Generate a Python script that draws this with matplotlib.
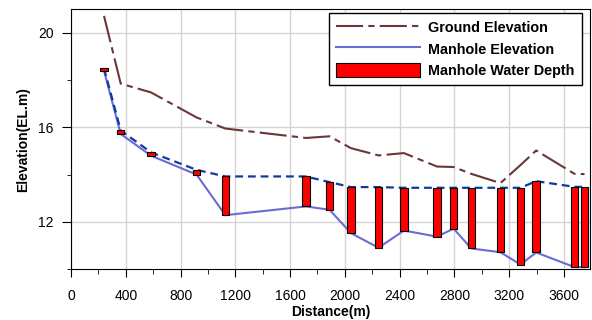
import matplotlib
matplotlib.use('Agg')
import matplotlib.pyplot as plt
from matplotlib.ticker import MultipleLocator
from matplotlib.patches import Patch
from matplotlib.lines import Line2D

# manhole chainage (m)
distance = [241, 363, 584, 917, 1127, 1715, 1888, 2044, 2246, 2431,
            2673, 2794, 2923, 3136, 3282, 3397, 3677, 3750]
ground_el = [20.72, 17.85, 17.48, 16.42, 15.95, 15.55, 15.62, 15.12, 14.81, 14.91,
             14.34, 14.32, 14.03, 13.64, 14.40, 15.02, 14.03, 14.02]
manhole_el = [18.40, 15.72, 14.80, 14.00, 12.28, 12.65, 12.51, 11.52, 10.90, 11.63,
              11.37, 11.71, 10.87, 10.71, 10.19, 10.70, 10.08, 10.08]
water_el = [18.50, 15.87, 14.94, 14.20, 13.92, 13.92, 13.68, 13.47, 13.47, 13.44,
            13.44, 13.44, 13.44, 13.44, 13.44, 13.72, 13.48, 13.48]

plt.rcParams['font.family'] = ['Liberation Sans', 'DejaVu Sans']
plt.rcParams['font.size'] = 10

brown = '#6B3636'
blue = '#6B6BD6'
dark_blue = '#0D3C9E'

fig = plt.figure(figsize=(5.92, 3.2), dpi=100)
ax = fig.add_axes([71/592, 51/320, 519/592, 259.7/320])

ax.plot(distance, ground_el, color=brown, lw=1.5, ls=(0, (13, 2.5, 3, 2.5)), zorder=3)
ax.plot(distance, manhole_el, color=blue, lw=1.5, zorder=3)
ax.plot(distance, water_el, color=dark_blue, lw=1.6, ls=(0, (3.5, 2.2)), zorder=3)

depth = [w - m for w, m in zip(water_el, manhole_el)]
ax.bar(distance, depth, bottom=manhole_el, width=55, color='red',
       edgecolor='black', lw=0.8, zorder=4)

ax.set_xlim(0, 3790)
ax.set_ylim(10, 21)
ax.xaxis.set_major_locator(MultipleLocator(400))
ax.xaxis.set_minor_locator(MultipleLocator(200))
ax.yaxis.set_major_locator(MultipleLocator(4))
ax.yaxis.set_minor_locator(MultipleLocator(2))
ax.tick_params(axis='x', which='major', length=5.5, pad=9, direction='out')
ax.tick_params(axis='x', which='minor', length=3.5, direction='out')
ax.tick_params(axis='y', which='major', length=6.5, pad=6, direction='out')
ax.tick_params(axis='y', which='minor', length=3, direction='out')
ax.grid(True, which='major', color='#D4D4D4', lw=1, zorder=0)
ax.set_axisbelow(True)

ax.set_xlabel('Distance(m)', fontweight='bold', labelpad=1)
ax.set_ylabel('Elevation(EL.m)', fontweight='bold', labelpad=6)

handles = [Line2D([], [], color=brown, lw=1.5, ls=(0, (13, 2.5, 3, 2.5))),
           Line2D([], [], color=blue, lw=1.5),
           Patch(facecolor='red', edgecolor='black', lw=0.8)]
labels = ['Ground Elevation', 'Manhole Elevation', 'Manhole Water Depth']
leg = ax.legend(handles, labels, loc='upper right', bbox_to_anchor=(0.9846, 0.987),
                borderaxespad=0, handlelength=5.8, handleheight=1.15,
                handletextpad=0.6, labelspacing=0.45, borderpad=0.5,
                fancybox=False, framealpha=1, edgecolor='black',
                prop={'weight': 'bold', 'size': 10.4})
leg.get_frame().set_linewidth(1)

fig.savefig('out.png', dpi=100)
